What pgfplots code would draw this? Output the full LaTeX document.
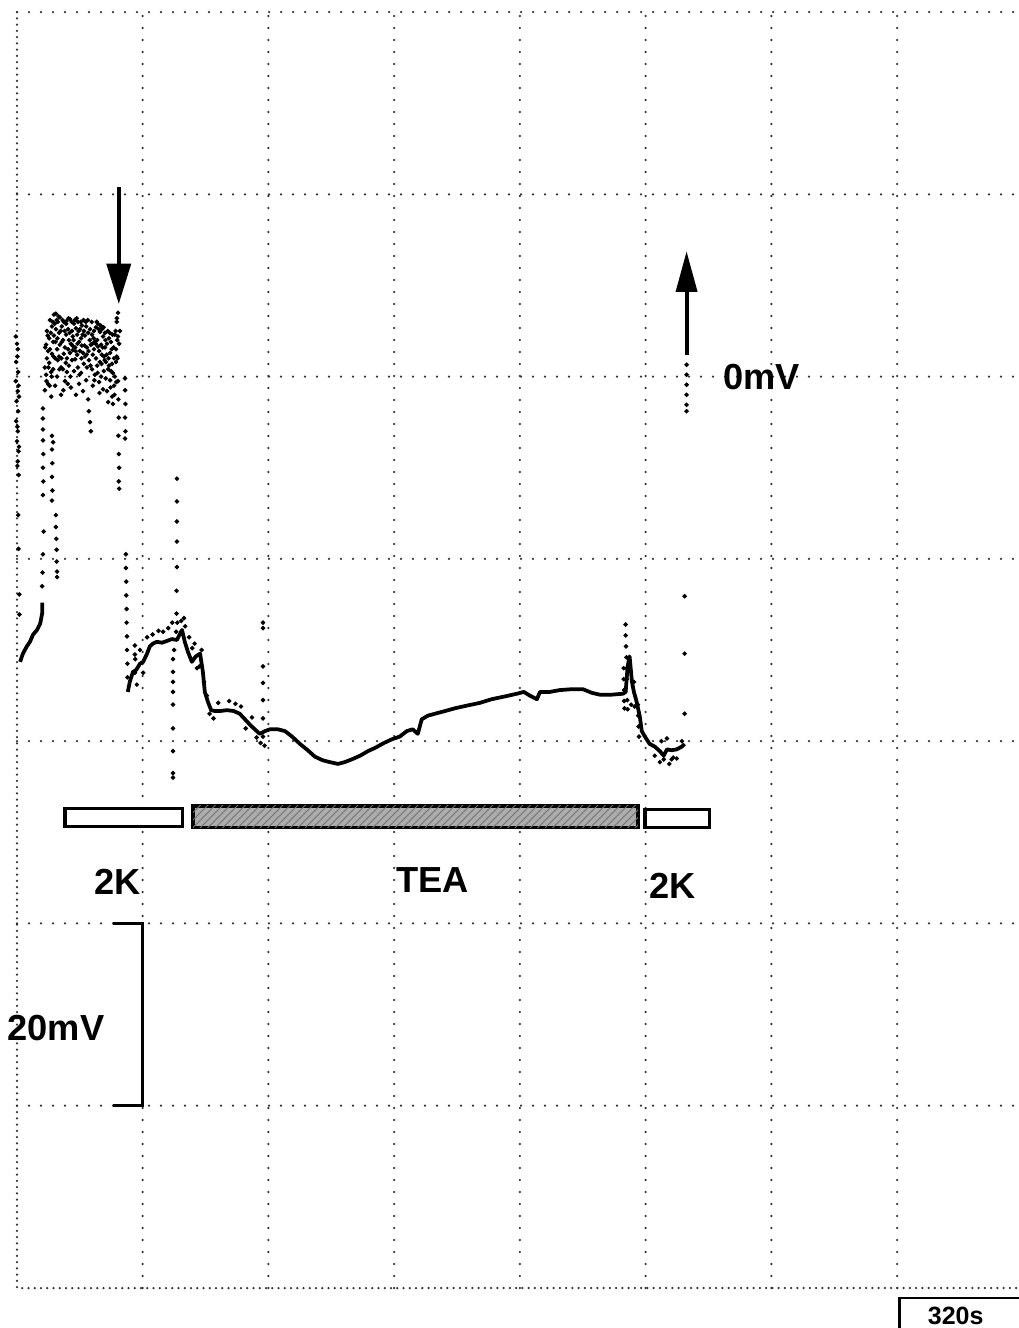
\documentclass[border=0pt]{standalone}
\usepackage{fontspec}
\setmainfont{Liberation Sans}
\usepackage{pgfplots}
\pgfplotsset{compat=1.18}
\usetikzlibrary{patterns}

% recorder trace: time in s (320 s per division), membrane potential in mV (20 mV per division)
\newcommand{\lbl}{\bfseries\fontsize{14.5}{17}\selectfont}

\begin{document}
\begin{tikzpicture}
\useasboundingbox (-6.8pt,-16pt) rectangle (400.8pt,515.2pt);
\begin{axis}[
  at={(0pt,0pt)}, anchor=south west,
  scale only axis, width=400.8pt, height=510.4pt,
  xmin=0, xmax=2550, ymin=-100, ymax=40,
  axis line style={draw=none},
  major tick length=0pt,
  xtick={320,640,...,2240}, ytick={-80,-60,...,40},
  xticklabels={}, yticklabels={},
  grid=major,
  major grid style={black!80, line width=1pt, line cap=round, dash pattern=on 0pt off 4.8pt},
  clip=false,
]
% dense chart border (left and bottom)
\draw[black!80, line width=1pt, line cap=round, dash pattern=on 0pt off 2.5pt]
  (axis cs:0,40) -- (axis cs:0,-100) -- (axis cs:2550,-100);

% trace before the first 2K application
\addplot[black, line width=1.5pt] coordinates {
(8,-31.3)(15,-30.4)(25,-29.6)(33,-29.1)(41,-28.3)(51,-27.8)(59,-27.1)(64,-26.0)(64,-24.8)
};

% trace after the depolarisation
\addplot[black, line width=1.5pt, line join=round] coordinates {
(282,-34.6)(287,-33.5)(295,-32.4)(303,-32.2)(313,-31.5)(321,-31.3)(331,-30.4)(338,-29.6)
(346,-29.3)(356,-29.1)(369,-29.2)(382,-29.0)(394,-28.8)(407,-28.9)(415,-28.2)(420,-27.8)
(427,-29.1)(435,-30.2)(445,-31.3)(455,-30.7)(466,-30.4)(473,-32.4)(478,-34.6)(486,-35.7)
(494,-36.6)(504,-36.7)(516,-36.7)(534,-36.6)(552,-36.7)(567,-37.0)(580,-37.6)(593,-38.2)
(605,-38.7)(618,-39.2)(631,-38.9)(644,-38.7)(664,-38.7)(682,-38.9)(700,-39.5)(720,-40.3)
(740,-41.0)(758,-41.7)(778,-42.1)(796,-42.3)(817,-42.5)(834,-42.3)(852,-42.0)(873,-41.6)
(893,-41.1)(913,-40.7)(934,-40.2)(954,-39.8)(974,-39.5)(992,-38.9)(1007,-38.7)(1020,-39.2)
(1030,-37.6)(1046,-37.2)(1063,-37.0)(1089,-36.7)(1114,-36.4)(1145,-36.1)(1178,-35.8)
(1208,-35.4)(1241,-35.1)(1272,-34.8)(1290,-34.6)(1305,-35.0)(1323,-35.4)(1331,-34.6)
(1356,-34.6)(1381,-34.4)(1412,-34.3)(1440,-34.3)(1463,-34.7)(1483,-34.9)(1514,-34.9)
(1542,-34.8)(1549,-34.6)(1554,-31.8)(1559,-30.7)(1565,-33.5)(1570,-34.6)(1577,-35.7)
(1585,-37.3)(1590,-38.9)(1598,-39.5)(1610,-40.3)(1623,-40.6)(1636,-41.1)(1646,-41.6)
(1654,-40.9)(1666,-41.0)(1679,-40.9)(1692,-40.6)(1699,-40.3)
};

% sampled points of the fast, noisy parts of the trace
\addplot[only marks, mark=*, mark size=0.7pt, black] coordinates {
(-3,4.4)(2,3.0)(-2,1.6)(3,0.5)(-3,-0.5)(2,-1.6)(-1,-2.7)(3,-3.8)(-2,-4.9)(2,-6.0)
(0,-7.1)(4,-8.2)(1,2.2)(5,-2.2)(1,-5.5)(5,-7.7)(2,-9.3)(4,-10.8)(3,-15.2)(4,-18.9)
(6,-23.9)(6,-26.1)(0,3.6)(4,-1.0)(1,-9.8)
(66,-3.5)(66,-4.6)(66,-5.8)(66,-7.0)(67,-8.5)(66,-10.0)(67,-11.5)(66,-13.0)(89,-6.5)
(89,-8.0)(90,-9.5)(89,-11.0)(90,-12.5)(89,-13.6)(92,-7.2)(99,-15.2)(99,-16.5)(100,-17.8)
(101,-19.0)(101,-20.3)(102,-21.4)(102,-22.0)(64,-23.0)(65,-21.5)(66,-19.5)(68,-17.0)
(71,1.0)(71,-1.5)(74,3.5)(74,0.2)(76,5.0)(76,2.0)(79,2.8)(79,-0.8)(82,4.2)(82,1.5)
(84,6.2)(84,3.0)(87,0.5)(87,-2.2)(89,5.5)(89,2.5)(92,3.8)(92,0.8)(94,6.8)(94,4.5)
(97,2.0)(97,-1.0)(99,6.9)(99,5.2)(102,3.0)(102,0.0)(104,6.0)(104,1.8)(107,4.8)(107,2.2)
(109,6.5)(109,3.5)(112,1.0)(112,-2.0)(114,5.5)(114,3.8)(117,4.0)(117,0.8)(119,6.0)(119,2.5)
(122,3.2)(122,-0.5)(125,5.8)(125,4.6)(127,2.0)(127,0.5)(130,5.2)(130,3.0)(132,4.0)(132,1.2)
(135,6.3)(135,2.6)(137,3.6)(137,-1.2)(140,5.0)(140,1.8)(142,4.4)(142,2.9)(145,5.8)(145,0.6)
(148,3.2)(148,1.9)(150,5.3)(150,-2.0)(153,4.6)(153,2.4)(155,6.0)(155,1.0)(158,3.8)(158,-0.8)
(160,5.2)(160,2.8)(163,4.2)(163,0.4)(165,5.6)(165,3.4)(168,2.6)(168,-1.6)(170,5.0)(170,1.4)
(173,4.5)(173,2.2)(176,5.5)(176,-0.4)(178,3.2)(178,1.0)(181,4.8)(181,-2.5)(183,1.8)(183,-3.8)
(186,5.2)(186,-5.0)(188,3.5)(188,-6.0)(191,4.6)(191,0.8)(193,2.4)(193,-1.0)(196,5.0)(196,3.0)
(198,3.8)(198,0.2)(201,5.4)(201,2.0)(204,4.0)(204,1.2)(206,5.8)(206,3.3)(209,2.8)(209,-0.6)
(211,4.9)(211,1.6)(214,3.5)(214,0.0)(216,5.2)(216,2.4)(219,4.4)(219,-1.4)(221,2.2)(221,0.6)
(224,4.8)(224,3.2)(226,1.6)(226,-0.2)(229,3.6)(229,-1.6)(232,0.8)(232,-2.8)(234,4.2)(234,1.2)
(237,2.6)(237,-0.4)(239,3.8)(239,0.6)(242,1.4)(242,-2.2)(244,0.4)(244,-3.0)(247,2.0)(247,-1.0)
(249,4.6)(249,0.0)(252,3.0)(252,1.6)(254,6.0)(254,2.2)(257,7.0)(257,4.4)(260,3.6)(262,5.0)
(72,3.2)(75,-0.5)(78,4.5)(80,1.0)(83,-1.0)(86,4.8)(88,0.0)(91,6.0)(93,2.2)(96,5.8)
(98,3.8)(101,6.2)(103,4.2)(106,6.6)(108,0.8)(111,5.0)(113,2.0)(116,6.2)(118,-1.5)(121,5.0)
(124,1.5)(126,6.1)(129,-0.8)(131,6.4)(134,4.8)(136,0.0)(139,6.0)(141,3.4)(144,4.0)(147,6.2)
(149,2.8)(152,6.4)(154,3.6)(157,5.0)(159,0.2)(162,6.0)(164,2.0)(167,4.6)(169,6.2)(172,3.4)
(175,6.0)(177,2.4)(180,6.2)(182,2.8)(185,4.0)(187,1.2)(190,6.0)(192,3.6)(195,4.2)(197,-0.4)
(200,3.6)(203,6.0)(205,0.4)(208,5.2)(210,-1.8)(213,5.6)(215,1.4)(218,3.2)(220,5.4)(223,1.8)
(225,4.0)(228,2.4)(231,5.0)(233,2.0)(236,4.8)(238,-1.2)(241,3.0)(243,4.6)(246,3.2)(248,-2.0)
(251,5.0)(253,-0.6)
(254,6.4)(255,4.0)(256,2.0)(257,-0.5)(258,-2.5)(259,-4.5)(258,-6.5)(259,-8.5)(260,-10.0)
(259,-11.5)(260,-12.3)
(275,-0.2)(275,-1.5)(276,-3.0)(275,-4.5)(276,-6.0)(275,-6.8)(277,-19.5)(277,-21.0)(278,-22.5)
(278,-24.0)(279,-25.5)(279,-27.0)(280,-28.5)(280,-30.0)(281,-31.5)(281,-33.0)
(300,-29.5)(301,-31.0)(300,-32.5)
(407,-11.2)(407,-13.7)(407,-15.9)(407,-18.1)(407,-20.9)(406,-23.5)(406,-26.0)(405,-28.0)
(397,-31.0)(397,-32.4)(397,-33.5)(397,-34.6)(397,-36.0)(397,-38.6)(397,-41.1)(397,-43.5)(397,-44.0)
(626,-27.0)(626,-27.6)(626,-31.8)(626,-33.6)(626,-35.5)(626,-37.5)(626,-39.5)
(300,-30.5)(305,-33.8)(313,-30.0)(321,-32.5)(331,-28.6)(345,-28.3)(360,-27.9)(372,-28.0)
(385,-27.6)(395,-27.0)(400,-30.0)(408,-27.0)(418,-26.8)(425,-26.5)(428,-27.4)(438,-28.6)
(446,-29.8)(452,-29.3)(458,-32.0)(464,-31.8)(470,-30.0)(476,-33.5)(483,-35.0)(490,-37.0)
(500,-37.5)(512,-35.8)(540,-35.6)(556,-35.9)(570,-36.2)(582,-38.6)(598,-37.4)(610,-39.6)
(620,-40.2)(630,-40.5)
(1549,-27.2)(1549,-28.4)(1550,-29.6)(1551,-30.8)(1552,-32.0)(1552,-33.2)(1553,-35.5)
(1554,-36.5)(1544,-32.0)(1544,-33.2)(1545,-34.4)(1545,-35.6)(1546,-36.4)(1580,-36.0)
(1581,-37.2)(1582,-38.4)(1583,-39.5)(1570,-33.5)(1572,-36.2)(1563,-36.0)
(1623,-41.6)(1636,-42.3)(1646,-42.0)(1654,-39.7)(1666,-42.0)(1679,-41.9)(1692,-40.0)
(1660,-42.5)(1640,-40.0)(1670,-41.8)
(1699,-24.1)(1699,-30.4)(1699,-37.0)
(1704,1.3)(1704,0.2)(1704,-0.9)(1704,-2.0)(1704,-3.1)(1704,-3.8)
};

% application bars
\draw[line width=1.3pt, fill=white] (axis cs:122,-47.4) rectangle (axis cs:422,-49.4);
\draw[line width=1.4pt, fill=gray!65, postaction={pattern=north east lines, pattern color=black!55}]
  (axis cs:448,-47.1) rectangle (axis cs:1580,-49.5);
\draw[line width=1.3pt, fill=white] (axis cs:1598,-47.5) rectangle (axis cs:1763,-49.5);
\node[font=\lbl] at (axis cs:257,-55.4) {2K};
\node[font=\lbl] at (axis cs:1058,-55.2) {TEA};
\node[font=\lbl] at (axis cs:1669,-55.9) {2K};

% arrows: impalement and withdrawal
\draw[line width=1.6pt] (axis cs:259,20.8) -- (axis cs:259,12.2);
\fill (axis cs:227,12.4) -- (axis cs:291,12.4) -- (axis cs:259,8.0) -- cycle;
\draw[line width=1.6pt] (axis cs:1704,2.4) -- (axis cs:1704,9.6);
\fill (axis cs:1676,9.3) -- (axis cs:1732,9.3) -- (axis cs:1704,13.7) -- cycle;
\node[font=\lbl] at (axis cs:1895,0) {0mV};

% voltage calibration
\draw[line width=1.2pt] (axis cs:244,-60) -- (axis cs:320,-60) -- (axis cs:320,-80) -- (axis cs:244,-80);
\node[font=\lbl] at (axis cs:99,-71.5) {20mV};

% time calibration
\draw[line width=1pt, fill=white] (axis cs:2246,-106) rectangle (axis cs:2600,-101.1);
\node[font=\bfseries\fontsize{10}{12}\selectfont] at (axis cs:2389,-103.1) {320s};
\end{axis}
\end{tikzpicture}
\end{document}
